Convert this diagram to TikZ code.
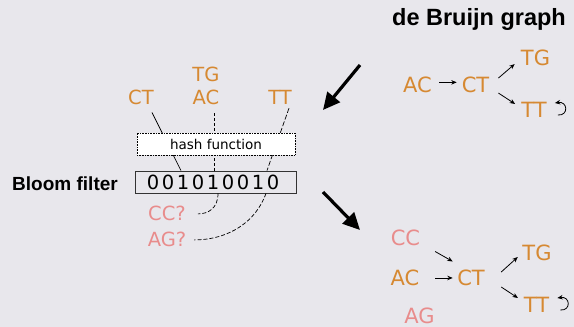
\documentclass[tikz,border=0pt]{standalone}
\usepackage{fontspec}
\setmainfont{DejaVu Sans}
\newfontfamily\titlefont{Liberation Sans}
\usetikzlibrary{arrows.meta}
\definecolor{bgc}{RGB}{232,231,236}
\definecolor{orng}{RGB}{214,137,50}
\definecolor{pnk}{RGB}{232,140,140}
\pgfdeclarelayer{bgl}
\pgfdeclarelayer{lnl}
\pgfsetlayers{bgl,lnl,main}
\begin{document}
\begin{tikzpicture}[x=1pt,y=-1pt,
  kmer/.style={font=\fontsize{19.5}{20}\selectfont, text=orng, inner sep=0pt, anchor=base},
  gkmer/.style={font=\fontsize{21}{22}\selectfont, text=orng, inner sep=0pt, anchor=base},
  pk/.style={text=pnk},
  sarr/.style={-{Stealth[length=5.5pt,width=4.5pt]}, line width=0.8pt},
  bigarr/.style={-{Triangle[length=17pt,width=16pt]}, line width=3.2pt},
  link/.style={line width=0.7pt},
  boldlab/.style={font=\titlefont\bfseries, inner sep=0pt}
]
\useasboundingbox (0,0) rectangle (574,327);
\begin{pgfonlayer}{bgl}
\fill[bgc] (0,0) rectangle (574,327);
\end{pgfonlayer}

% title
\node[boldlab, font=\titlefont\bfseries\fontsize{23.5}{24}\selectfont, anchor=base] (title) at (479,25) {de Bruijn graph};

% left: k-mers
\node[kmer] (ct0) at (141,104) {CT};
\node[kmer] (tg0) at (206,81) {TG};
\node[kmer] (ac0) at (206,104) {AC};
\node[kmer] (tt0) at (280,104) {TT};

\node[draw, densely dotted, line width=0.6pt, fill=white, minimum width=158pt, minimum height=22pt, inner sep=0pt, font=\fontsize{13.5}{14}\selectfont] (hash) at (216,144) {hash function};
\node[draw=black!80, line width=0.9pt, minimum width=161pt, minimum height=22pt, inner sep=0pt, font=\fontsize{19.5}{20}\selectfont] (bloom) at (215.5,182) {0\kern2.6pt0\kern2.6pt1\kern2.6pt0\kern2.6pt1\kern2.6pt0\kern2.6pt0\kern2.6pt1\kern2.6pt0\kern5pt};
\node[boldlab, font=\titlefont\bfseries\fontsize{19}{20}\selectfont, anchor=base east] (blab) at (118,190.5) {Bloom filter};

\node[kmer, pk] (cc0) at (167,220) {CC?};
\node[kmer, pk] (ag0) at (167,246) {AG?};

\begin{pgfonlayer}{lnl}
\draw[link] ([xshift=11pt,yshift=-8pt]ct0.south) -- ([xshift=-34.5pt]bloom.north);
\draw[link, dash pattern=on 3pt off 2pt] ([xshift=8pt,yshift=-9pt]ac0.south) -- ([xshift=-1.5pt]bloom.north);
\draw[link, dash pattern=on 5pt off 2pt] ([xshift=9pt,yshift=-4pt]tt0.south) -- ([xshift=51.5pt]bloom.north);
\end{pgfonlayer}

\draw[link, dash pattern=on 4pt off 2pt] ([xshift=2.5pt]bloom.south) .. controls +(0,15) and +(10,0) .. ([xshift=12pt,yshift=-1pt]cc0.east);
\draw[link, dash pattern=on 4pt off 2pt] ([xshift=50.5pt]bloom.south) .. controls +(-10,28) and +(35,0) .. ([xshift=7.6pt,yshift=-1pt]ag0.east);

% big arrows
\coordinate (a1s) at (360,65);
\coordinate (a1e) at (323,110);
\coordinate (a2s) at (323,192);
\coordinate (a2e) at (360,230);
\draw[bigarr] (a1s) -- (a1e);
\draw[bigarr] (a2s) -- (a2e);

% top de Bruijn graph
\node[gkmer] (ac1) at (417.5,92) {AC};
\node[gkmer] (ct1) at (475.5,92) {CT};
\node[gkmer] (tg1) at (535.5,65) {TG};
\node[gkmer] (tt1) at (534,117) {TT};
\draw[sarr] ([xshift=7pt,yshift=2pt]ac1.east) -- ([xshift=-4.8pt,yshift=2pt]ct1.west);
\draw[sarr] ([xshift=9pt,yshift=6.3pt]ct1.east) -- ([xshift=-6pt,yshift=-6.65pt]tg1.west);
\draw[sarr] ([xshift=9pt,yshift=-8.7pt]ct1.east) -- ([xshift=-6pt,yshift=5.35pt]tt1.west);
\draw[sarr] ([xshift=11pt,yshift=-5.65pt]tt1.east) .. controls +(11,1) and +(13,-2) .. ([xshift=8pt,yshift=6.35pt]tt1.east);

% bottom de Bruijn graph
\node[gkmer, pk] (cc2) at (405.5,245) {CC};
\node[gkmer] (ac2) at (405,285) {AC};
\node[gkmer, pk] (ag2) at (419.5,323) {AG};
\node[gkmer] (ct2) at (471,285) {CT};
\node[gkmer] (tg2) at (537,260) {TG};
\node[gkmer] (tt2) at (536.5,312) {TT};
\draw[sarr] ([xshift=14.8pt,yshift=-6pt]cc2.south east) -- ([xshift=-4.3pt,yshift=7.7pt]ct2.north west);
\draw[sarr] ([xshift=15.5pt,yshift=-0.6pt]ac2.east) -- ([xshift=-4.3pt,yshift=-0.6pt]ct2.west);
\draw[sarr] ([xshift=16.3pt,yshift=5.35pt]ct2.east) -- ([xshift=-4.45pt,yshift=-4.65pt]tg2.west);
\draw[sarr] ([xshift=16.3pt,yshift=-9.65pt]ct2.east) -- ([xshift=-5.7pt,yshift=6.35pt]tt2.west);
\draw[sarr] ([xshift=11pt,yshift=-5.65pt]tt2.east) .. controls +(11,1) and +(13,-2) .. ([xshift=8pt,yshift=6.35pt]tt2.east);
\end{tikzpicture}
\end{document}
